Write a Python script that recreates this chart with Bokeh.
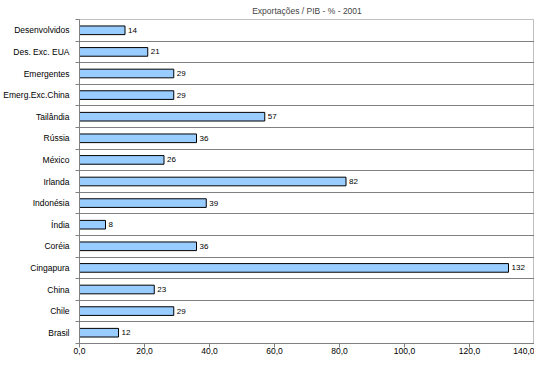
from bokeh.plotting import figure
from bokeh.models import Range1d, FixedTicker, ColumnDataSource
from bokeh.core.properties import value
from bokeh.embed import file_html
from bokeh.resources import INLINE

categories = ["Desenvolvidos", "Des. Exc. EUA", "Emergentes", "Emerg.Exc.China",
              "Tailândia", "Rússia", "México", "Irlanda", "Indonésia", "Índia",
              "Coréia", "Cingapura", "China", "Chile", "Brasil"]
values = [14, 21, 29, 29, 57, 36, 26, 82, 39, 8, 36, 132, 23, 29, 12]
x_ticks = [0, 20, 40, 60, 80, 100, 120, 140]
x_tick_labels = ["0,0", "20,0", "40,0", "60,0", "80,0", "100,0", "120,0", "140,0"]
title_text = "Exportações / PIB - % - 2001"

n = len(categories)
ys = list(range(n))
source = ColumnDataSource(dict(y=ys, v=values, lab=[str(v) for v in values]))

FONT = "Liberation Sans"

p = figure(width=534, height=356, output_backend="svg", toolbar_location=None,
           x_range=Range1d(0, 140), y_range=Range1d(n - 0.5, -0.5),
           min_border_left=69, min_border_right=0, min_border_top=0, min_border_bottom=0)
p.title.text = title_text
p.title.align = "center"
p.title.offset = -24
p.title.text_font = FONT
p.title.text_font_size = "8.5px"
p.title.text_font_style = "normal"
p.title.standoff = 7

p.background_fill_color = "white"
p.border_fill_color = "white"
p.outline_line_color = "#c0c0c0"

p.hbar(y="y", right="v", left=0, height=0.4, source=source,
       fill_color="#99ccff", line_color="#000000", line_width=1)
p.text(x="v", y="y", text="lab", source=source, x_offset=3,
       text_baseline="middle", text_align="left",
       text_font=value(FONT), text_font_size="8px", text_color="black")

# y axis
yax = p.yaxis[0]
yax.ticker = FixedTicker(ticks=ys, minor_ticks=[i - 0.5 for i in range(n + 1)])
yax.major_label_overrides = {i: c for i, c in enumerate(categories)}
yax.major_tick_line_color = None
yax.minor_tick_out = 4
yax.minor_tick_in = 0
yax.minor_tick_line_color = "#808080"
yax.axis_line_color = "#808080"
yax.major_label_text_font = FONT
yax.major_label_text_font_size = "8.5px"
yax.major_label_text_color = "black"
yax.major_label_standoff = 4
yax.axis_label_standoff = 0

# x axis
xax = p.xaxis[0]
xax.ticker = FixedTicker(ticks=x_ticks, minor_ticks=[])
xax.major_label_overrides = {t: l for t, l in zip(x_ticks, x_tick_labels)}
xax.major_tick_out = 4
xax.major_tick_in = 0
xax.major_tick_line_color = "#808080"
xax.axis_line_color = "#808080"
xax.major_label_text_font = FONT
xax.major_label_text_font_size = "8.5px"
xax.major_label_text_color = "black"
xax.major_label_standoff = 0
xax.axis_label_standoff = 0

p.xgrid.grid_line_color = None
p.ygrid.ticker = FixedTicker(ticks=[i + 0.5 for i in range(n - 1)])
p.ygrid.grid_line_color = "#808080"
p.ygrid.grid_line_width = 1

open("out.html", "w").write(file_html(p, INLINE))
